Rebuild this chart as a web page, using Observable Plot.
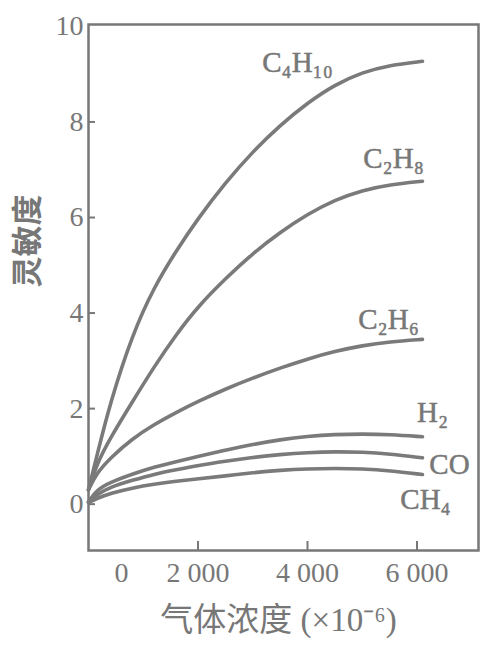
<!DOCTYPE html>
<html>
<head>
<meta charset="utf-8">
<script src="https://cdn.jsdelivr.net/npm/d3@7"></script>
<script src="https://cdn.jsdelivr.net/npm/@observablehq/plot@0.6"></script>
<style>
  html, body { margin: 0; padding: 0; background: #fff; }
  #chart svg { display: block; }
</style>
</head>
<body>
<div id="chart"></div>
<script>
// ---- data ----
const concentration = [0, 150, 400, 800, 1200, 1600, 2000, 2500, 3000, 3500, 4000, 4500, 5000, 5500, 6100];
const gasNames = ["C₄H₁₀", "C₂H₈", "C₂H₆", "H₂", "CO", "CH₄"];
const sensC4H10 = [0.3, 1.0, 2.14, 3.55, 4.55, 5.30, 5.98, 6.73, 7.38, 7.93, 8.40, 8.78, 9.04, 9.19, 9.27];
const sensC2H8  = [0.3, 0.84, 1.39, 2.14, 2.88, 3.55, 4.14, 4.72, 5.25, 5.69, 6.07, 6.37, 6.57, 6.69, 6.76];
const sensC2H6  = [0.3, 0.65, 0.97, 1.37, 1.67, 1.92, 2.15, 2.41, 2.64, 2.85, 3.04, 3.20, 3.32, 3.40, 3.45];
const sensH2    = [0.05, 0.30, 0.46, 0.63, 0.78, 0.89, 1.00, 1.13, 1.25, 1.35, 1.42, 1.46, 1.47, 1.46, 1.41];
const sensCO    = [0.05, 0.20, 0.36, 0.50, 0.63, 0.72, 0.81, 0.90, 0.98, 1.04, 1.08, 1.10, 1.09, 1.05, 0.97];
const sensCH4   = [0.03, 0.12, 0.23, 0.34, 0.42, 0.48, 0.53, 0.59, 0.66, 0.71, 0.74, 0.75, 0.74, 0.70, 0.62];
const yTicks = [0, 2, 4, 6, 8, 10];
const xTicks = [0, 2000, 4000, 6000];
const yLabel = "灵敏度";
const xLabel = "气体浓度 (×10⁻⁶)";

// ---- long table for the library ----
const series = [sensC4H10, sensC2H8, sensC2H6, sensH2, sensCO, sensCH4];
const rows = [];
gasNames.forEach((g, i) => {
  concentration.forEach((c, j) => rows.push({gas: g, c, s: series[i][j]}));
});

// label offsets (style only) relative to each curve's end
const labelStyle = {
  "C₄H₁₀": {dx: -125, dy: 1},
  "C₂H₈": {dx: -29, dy: -22},
  "C₂H₆": {dx: -34, dy: -20},
  "H₂": {dx: 10, dy: -24},
  "CO": {dx: 27, dy: 7},
  "CH₄": {dx: 3, dy: 25}
};

const ink = "#777";
const serif = "'Liberation Serif', 'Times New Roman', serif";
const cjk = "'Liberation Serif', 'Noto Sans CJK SC', serif";

const plot = Plot.plot({
  width: 486,
  height: 654,
  marginTop: 24,
  marginRight: 8,
  marginBottom: 104,
  marginLeft: 88,
  style: {fontFamily: serif, fontSize: "28px", color: ink, background: "#fff"},
  x: {domain: [0, 7123]},
  y: {domain: [-0.97, 10.04]},
  marks: [
    Plot.frame({stroke: ink, strokeWidth: 2.5}),
    // y tick labels
    Plot.axisY({ticks: yTicks, tickSize: 0, tickPadding: 5, label: null, fontSize: 28, stroke: ink, strokeWidth: 0.5}),
    // inward y tick marks
    Plot.axisY({ticks: yTicks.filter(d => d < 10), tickSize: -7, text: null, label: null, stroke: ink, strokeWidth: 2}),
    // x tick labels
    Plot.axisX({ticks: xTicks.filter(d => d > 0), tickSize: 0, tickPadding: 12, label: null, fontSize: 28,
      stroke: ink, strokeWidth: 0.5, tickFormat: d => d3.format(",")(d).replace(",", " ")}),
    Plot.axisX({ticks: xTicks.filter(d => d === 0), tickSize: 0, tickPadding: 12, label: null, fontSize: 28,
      stroke: ink, strokeWidth: 0.5, dx: 33}),
    // inward x tick marks
    Plot.axisX({ticks: xTicks.filter(d => d > 0), tickSize: -9, text: null, label: null, stroke: ink, strokeWidth: 2}),
    // curves
    Plot.line(rows, {x: "c", y: "s", z: "gas", stroke: "#7a7a7a", strokeWidth: 3.6, curve: "basis", strokeLinecap: "round"}),
    // curve labels
    ...gasNames.map(g => Plot.text(rows.filter(r => r.gas === g), Plot.selectLast({
      x: "c", y: "s", text: "gas", dx: labelStyle[g].dx, dy: labelStyle[g].dy,
      fontSize: 29, fill: ink, stroke: ink, strokeWidth: 0.5, fontFamily: serif, textAnchor: "middle"
    }))),
    // axis titles
    Plot.text([yLabel], {text: d => d, frameAnchor: "left", dx: -60, rotate: -90, fontSize: 31,
      fontWeight: "bold", fill: ink, fontFamily: cjk}),
    Plot.text([xLabel], {text: d => d, frameAnchor: "bottom", dx: -5, dy: 80, fontSize: 33,
      fill: ink, fontFamily: cjk})
  ]
});
document.getElementById("chart").appendChild(plot);
</script>
</body>
</html>
